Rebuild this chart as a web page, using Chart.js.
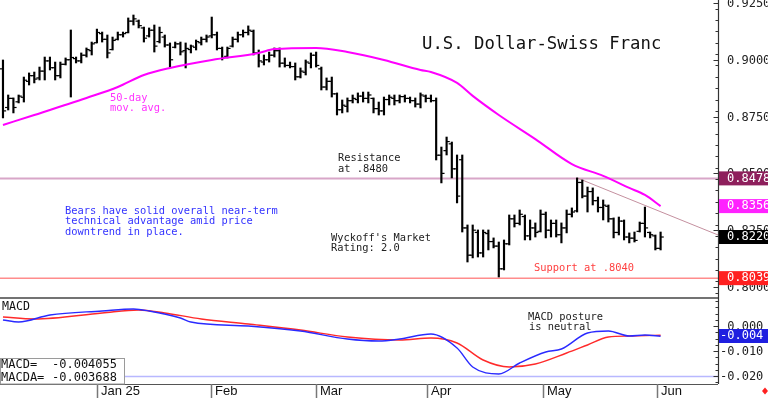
<!DOCTYPE html>
<html><head><meta charset="utf-8">
<script src="https://cdn.jsdelivr.net/npm/chart.js@4.4.1/dist/chart.umd.min.js"></script>
<style>
html,body{margin:0;padding:0;background:#fff;overflow:hidden}
#wrap{position:relative;width:768px;height:398px;background:#fff}
#c1{position:absolute;left:0;top:0}
#c2{position:absolute;left:0;top:297px}
</style></head><body>
<div id="wrap"><canvas id="c1" width="768" height="297"></canvas><canvas id="c2" width="768" height="101"></canvas></div>
<script>
// ---------- DATA ----------
const highs = [.8999,.8845,.8832,.8845,.8924,.8942,.8946,.8968,.9012,.9012,
.8990,.8990,.9008,.9131,.9012,.9030,.9052,.9078,.9135,.9122,
.9109,.9100,.9122,.9122,.9184,.9197,.9175,.9144,.9140,.9153,
.9144,.9109,.9074,.9078,.9078,.9074,.9065,.9087,.9100,.9109,
.9188,.9122,.9056,.9056,.9100,.9122,.9131,.9149,.9131,.9043,
.9021,.9034,.9052,.9052,.9008,.8990,.8986,.8964,.8999,.9030,
.9034,.8968,.8920,.8924,.8854,.8823,.8832,.8845,.8854,.8858,
.8858,.8832,.8814,.8836,.8845,.8845,.8845,.8845,.8836,.8832,
.8854,.8845,.8845,.8832,.8616,.8660,.8638,.8581,.8581,.8273,
.8273,.8251,.8251,.8251,.8216,.8198,.8207,.8317,.8317,.8339,
.8317,.8295,.8282,.8339,.8330,.8295,.8295,.8282,.8339,.8348,
.8480,.8471,.8440,.8436,.8396,.8383,.8361,.8304,.8308,.8295,
.8238,.8242,.8286,.8352,.8242,.8229,.8242];
const lows = [.8744,.8779,.8766,.8810,.8814,.8889,.8898,.8911,.8911,.8955,
.8911,.8920,.8977,.8836,.8986,.8986,.9012,.9021,.9074,.9078,
.9008,.9043,.9087,.9100,.9118,.9153,.9140,.9078,.9100,.9034,
.9074,.9056,.8968,.9052,.9021,.8964,.9030,.9043,.9065,.9078,
.9096,.9043,.8999,.9008,.9056,.9078,.9100,.9109,.9021,.8968,
.8977,.8990,.9012,.8968,.8968,.8964,.8911,.8920,.8933,.8964,
.8968,.8867,.8867,.8836,.8757,.8766,.8770,.8810,.8810,.8814,
.8810,.8766,.8757,.8757,.8801,.8801,.8810,.8814,.8810,.8792,
.8788,.8814,.8814,.8559,.8458,.8581,.8480,.8370,.8242,.8110,
.8128,.8132,.8132,.8163,.8172,.8044,.8075,.8185,.8264,.8273,
.8207,.8207,.8220,.8242,.8216,.8220,.8220,.8194,.8238,.8308,
.8330,.8392,.8330,.8361,.8330,.8295,.8286,.8216,.8229,.8207,
.8194,.8198,.8242,.8220,.8216,.8163,.8163];
const opens = [.8960,.8790,.8830,.8815,.8835,.8905,.8930,.8920,.8950,.8995,
.8965,.8930,.8980,.9000,.9005,.8995,.9020,.9040,.9075,.9115,
.9090,.9045,.9090,.9110,.9120,.9170,.9170,.9140,.9105,.9130,
.9080,.9100,.9065,.9055,.9070,.9040,.9045,.9055,.9075,.9090,
.9105,.9110,.9050,.9015,.9060,.9090,.9110,.9120,.9125,.9030,
.8990,.9000,.9020,.9040,.8985,.8975,.8970,.8925,.8945,.8985,
.9020,.8960,.8880,.8905,.8850,.8780,.8795,.8820,.8825,.8840,
.8830,.8830,.8785,.8775,.8825,.8830,.8820,.8838,.8830,.8820,
.8805,.8840,.8830,.8820,.8580,.8600,.8630,.8520,.8560,.8260,
.8140,.8240,.8150,.8235,.8200,.8180,.8080,.8190,.8300,.8280,
.8310,.8225,.8260,.8245,.8320,.8250,.8280,.8230,.8260,.8320,
.8335,.8460,.8400,.8420,.8380,.8350,.8355,.8300,.8240,.8290,
.8220,.8215,.8245,.8280,.8240,.8225,.8170];
const closes = [.8775,.8830,.8790,.8840,.8910,.8930,.8915,.8950,.8995,.8965,
.8930,.8980,.9000,.9010,.8995,.9020,.9045,.9070,.9120,.9090,
.9030,.9085,.9110,.9115,.9170,.9180,.9150,.9095,.9130,.9060,
.9120,.9065,.9000,.9070,.9035,.9050,.9060,.9080,.9090,.9100,
.9110,.9050,.9010,.9050,.9090,.9110,.9120,.9130,.9030,.8995,
.9000,.9020,.9040,.8985,.8975,.8970,.8925,.8950,.8990,.9020,
.8975,.8880,.8905,.8850,.8780,.8800,.8820,.8830,.8840,.8830,
.8845,.8785,.8775,.8825,.8835,.8820,.8838,.8830,.8820,.8805,
.8845,.8830,.8820,.8580,.8500,.8640,.8520,.8400,.8260,.8140,
.8250,.8150,.8240,.8200,.8180,.8080,.8190,.8300,.8280,.8320,
.8225,.8260,.8240,.8320,.8250,.8280,.8230,.8260,.8320,.8330,
.8460,.8400,.8420,.8380,.8350,.8360,.8300,.8240,.8290,.8220,
.8215,.8205,.8280,.8260,.8230,.8170,.8220];

// 50-day moving average (bar index, value)
const maIdx = [0,6,16,22,27,32,40,49,52,60,66,73,80,82,87,90,95,102,109,115,120,123,126];
const maVal = [.8713,.8757,.8832,.8880,.8933,.8964,.8999,.9030,.9047,.9052,.9034,.8999,.8955,.8946,.8898,.8841,.8757,.8651,.8541,.8489,.8436,.8405,.8356];

// MACD (blue) and MACD average (red)
const macdIdx = [0,3,9,19,25,28,34,36,47,57,66,72,76,82,87,90,95,99,104,107,112,116,120,123,126];
const macdVal = [.0024,.0016,.0044,.0060,.0068,.0060,.0032,.0016,.0000,-.0020,-.0052,-.0060,-.0052,-.0032,-.0088,-.0164,-.0192,-.0148,-.0104,-.0092,-.0028,-.0020,-.0040,-.0036,-.0041];
const sigIdx = [0,6,19,26,31,38,47,57,66,76,82,87,92,97,102,108,112,116,120,126];
const sigVal = [.0036,.0028,.0052,.0064,.0052,.0028,.0008,-.0016,-.0044,-.0056,-.0048,-.0068,-.0136,-.0164,-.0152,-.0108,-.0076,-.0044,-.0040,-.0037];

const resistance = 0.8478;
const support = 0.8039;
const trendIdx = [110, 137];
const trendVal = [0.8480, 0.8229];
const macdRef = -0.0202;

const priceTicks = [0.8000, 0.8250, 0.8500, 0.8750, 0.9000, 0.9250];
const macdTicks = [0.000, -0.010, -0.020];
const monthLabels = ['Jan 25','Feb','Mar','Apr','May','Jun'];
const monthPos = [18, 39.9, 60, 81.2, 103.4, 125.4];
const priceTags = [
  {v:0.8478, bg:'#8e1f5c'},
  {v:0.8356, bg:'#ff22ff'},
  {v:0.8220, bg:'#000000'},
  {v:0.8039, bg:'#ff2020'}
];
const macdTag = {v:-0.004, label:'-0.004', bg:'#1f1fe0'};
const macdReadout = ['-0.004055','-0.003688'];

// ---------- HELPERS ----------
const xMin = -0.57, xMax = 137.0;
const MONO = '"DejaVu Sans Mono", monospace';
function txt(ctx, s, x, y, font, color, align) {
  ctx.save(); ctx.font = font; ctx.fillStyle = color; ctx.textAlign = align || 'left';
  ctx.textBaseline = 'middle'; ctx.fillText(s, x, y); ctx.restore();
}
function hline(ctx, x1, x2, y, color, w) {
  ctx.save(); ctx.strokeStyle = color; ctx.lineWidth = w; ctx.beginPath();
  ctx.moveTo(x1, y); ctx.lineTo(x2, y); ctx.stroke(); ctx.restore();
}
function vline(ctx, x, y1, y2, color, w) {
  ctx.save(); ctx.strokeStyle = color; ctx.lineWidth = w; ctx.beginPath();
  ctx.moveTo(x, y1); ctx.lineTo(x, y2); ctx.stroke(); ctx.restore();
}
const pts = (xs, ys) => xs.map((x, k) => ({x, y: ys[k]}));

// ---------- PRICE CHART ----------
const pricePlugin = {
  id: 'priceDecor',
  afterDraw(chart) {
    const ctx = chart.ctx, y = chart.scales.y, a = chart.chartArea;
    const ax = a.right + 0.5;
    vline(ctx, ax, 0, 297, '#333', 1.2);
    for (let v = 0.7975; v <= 0.9263; v += 0.005) {
      const py = Math.round(y.getPixelForValue(v)) + 0.5;
      hline(ctx, ax - 3, ax, py, '#333', 1);
    }
    priceTicks.forEach(v => {
      const py = Math.round(y.getPixelForValue(v)) + 0.5;
      hline(ctx, ax - 5, ax, py, '#333', 1);
      txt(ctx, v.toFixed(4), 727, py, '12px ' + MONO, '#222');
    });
    priceTags.forEach(t => {
      const py = y.getPixelForValue(t.v);
      ctx.fillStyle = t.bg; ctx.fillRect(a.right + 1, py - 7, 50, 14);
      txt(ctx, t.v.toFixed(4), 727, py, '12px ' + MONO, '#fff');
    });
    const f = '10.4px ' + MONO;
    txt(ctx, 'U.S. Dollar-Swiss Franc', 422, 45, '17.3px ' + MONO, '#111');
    txt(ctx, '50-day', 110, 98, f, '#ff33ff');
    txt(ctx, 'mov. avg.', 110, 108, f, '#ff33ff');
    txt(ctx, 'Resistance', 338, 158, f, '#222');
    txt(ctx, 'at .8480', 338, 169, f, '#222');
    txt(ctx, 'Bears have solid overall near-term', 65, 211, f, '#3333ff');
    txt(ctx, 'technical advantage amid price', 65, 221.5, f, '#3333ff');
    txt(ctx, 'downtrend in place.', 65, 232, f, '#3333ff');
    txt(ctx, "Wyckoff's Market", 331, 238, f, '#222');
    txt(ctx, 'Rating: 2.0', 331, 248.5, f, '#222');
    txt(ctx, 'Support at .8040', 534, 268, f, '#ff4040');
  }
};

new Chart(document.getElementById('c1'), {
  type: 'bar',
  data: {
    datasets: [
      {type:'line', data: pts([xMin, xMax], [resistance, resistance]), borderColor:'#d8a6c8', borderWidth:2, pointRadius:0, order:5},
      {type:'line', data: pts([xMin, xMax], [support, support]), borderColor:'#ff8c8c', borderWidth:1.5, pointRadius:0, order:5},
      {type:'line', data: pts(trendIdx, trendVal), borderColor:'#c4909f', borderWidth:1, pointRadius:0, order:4},
      {type:'bar', data: highs.map((h, i) => ({x:i, y:[lows[i], h]})), backgroundColor:'#000', barThickness:1.5, grouped:false, order:3},
      {type:'line', showLine:false, data: opens.map((o, i) => ({x:i - 0.3, y:o})), pointStyle:'line', pointRadius:1.6, borderColor:'#000', borderWidth:1.2, order:2},
      {type:'line', showLine:false, data: closes.map((c, i) => ({x:i + 0.3, y:c})), pointStyle:'line', pointRadius:1.6, borderColor:'#000', borderWidth:1.2, order:2},
      {type:'line', data: pts(maIdx, maVal), borderColor:'#ff00ff', borderWidth:2, pointRadius:0, cubicInterpolationMode:'monotone', order:1}
    ]
  },
  options: {
    responsive:false, devicePixelRatio:1, animation:false, events:[],
    layout:{autoPadding:false, padding:{left:0, right:50, top:0, bottom:0}},
    plugins:{legend:{display:false}, tooltip:{enabled:false}},
    scales:{
      x:{type:'linear', min:xMin, max:xMax, offset:false, grid:{offset:false}, display:false},
      y:{type:'linear', min:0.7956, max:0.9263, display:false}
    }
  },
  plugins:[pricePlugin]
});

// ---------- MACD CHART ----------
const macdPlugin = {
  id: 'macdDecor',
  afterDraw(chart) {
    const ctx = chart.ctx, y = chart.scales.y, x = chart.scales.x, a = chart.chartArea;
    const ax = a.right + 0.5;
    hline(ctx, 0, a.right, 1, '#444', 1.5);
    hline(ctx, 0, a.right, a.bottom + 0.5, '#555', 1.2);
    vline(ctx, ax, 0, a.bottom, '#333', 1.2);
    for (let v = 0.010; v >= -0.0235; v -= 0.0025) {
      const py = Math.round(y.getPixelForValue(v)) + 0.5;
      hline(ctx, ax - 3, ax, py, '#333', 1);
    }
    macdTicks.forEach(v => {
      const py = Math.round(y.getPixelForValue(v)) + 0.5;
      hline(ctx, ax - 5, ax, py, '#333', 1);
      const s = (v < 0 ? '' : ' ') + v.toFixed(3);
      txt(ctx, s, 720, py, '12px ' + MONO, '#222');
    });
    const ty = y.getPixelForValue(macdTag.v);
    ctx.fillStyle = macdTag.bg; ctx.fillRect(a.right + 1, ty - 7, 50, 14);
    txt(ctx, macdTag.label, 720, ty, '12px ' + MONO, '#fff');
    monthPos.forEach((m, k) => {
      const px = Math.round(x.getPixelForValue(m)) + 0.5;
      vline(ctx, px, a.bottom, 101, '#777', 1.5);
      txt(ctx, monthLabels[k], px + 3.5, 94, '13px "Liberation Sans", Arial, sans-serif', '#111');
    });
    ctx.save(); ctx.fillStyle = '#ff2020'; ctx.beginPath();
    ctx.moveTo(765, 90.5); ctx.lineTo(768, 94); ctx.lineTo(765, 97.5); ctx.lineTo(762, 94); ctx.closePath(); ctx.fill(); ctx.restore();
    txt(ctx, 'MACD', 2, 9.5, '11.6px ' + MONO, '#111');
    txt(ctx, 'MACD posture', 528, 20, '10.4px ' + MONO, '#222');
    txt(ctx, 'is neutral', 529, 30.5, '10.4px ' + MONO, '#222');
    ctx.save(); ctx.fillStyle = '#fff'; ctx.fillRect(0, 61, 124, 26);
    ctx.strokeStyle = '#9a9a9a'; ctx.lineWidth = 1; ctx.strokeRect(0.5, 61.5, 124, 25.5); ctx.restore();
    txt(ctx, 'MACD=', 1, 67.5, '12px ' + MONO, '#111');
    txt(ctx, macdReadout[0], 52, 67.5, '12px ' + MONO, '#111');
    txt(ctx, 'MACDA=', 1, 80.5, '12px ' + MONO, '#111');
    txt(ctx, macdReadout[1], 52, 80.5, '12px ' + MONO, '#111');
  }
};

new Chart(document.getElementById('c2'), {
  type: 'line',
  data: {
    datasets: [
      {data: pts([xMin, xMax], [macdRef, macdRef]), borderColor:'#b8b8ff', borderWidth:1.5, pointRadius:0, order:3},
      {data: pts(sigIdx, sigVal), borderColor:'#ff2a2a', borderWidth:1.4, pointRadius:0, cubicInterpolationMode:'monotone', order:2},
      {data: pts(macdIdx, macdVal), borderColor:'#2a2aff', borderWidth:1.4, pointRadius:0, cubicInterpolationMode:'monotone', order:1}
    ]
  },
  options: {
    responsive:false, devicePixelRatio:1, animation:false, events:[],
    layout:{autoPadding:false, padding:{left:0, right:50, top:0, bottom:14}},
    plugins:{legend:{display:false}, tooltip:{enabled:false}},
    scales:{
      x:{type:'linear', min:xMin, max:xMax, display:false},
      y:{type:'linear', min:-0.0232, max:0.0116, display:false}
    }
  },
  plugins:[macdPlugin]
});
</script>
</body></html>
